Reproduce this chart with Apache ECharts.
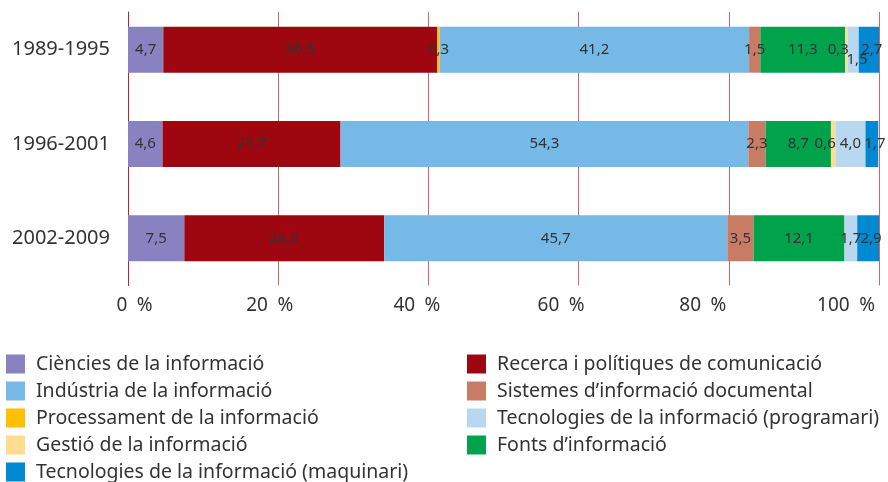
<!DOCTYPE html>
<html>
<head>
<meta charset="utf-8">
<script src="https://cdn.jsdelivr.net/npm/echarts@6/dist/echarts.min.js"></script>
<style>
html,body{margin:0;padding:0;background:#fff;}
#chart{width:888px;height:482px;}
</style>
</head>
<body>
<div id="chart"></div>
<script>
// ---- data ----
const categories = ['1989-1995', '1996-2001', '2002-2009'];
const tickLabels = ['0 %', '20 %', '40 %', '60 %', '80 %', '100 %'];

const seriesNames = [
  'Ciències de la informació',
  'Recerca i polítiques de comunicació',
  'Processament de la informació',
  'Indústria de la informació',
  'Sistemes d\u2019informació documental',
  'Fonts d\u2019informació',
  'Gestió de la informació',
  'Tecnologies de la informació (programari)',
  'Tecnologies de la informació (maquinari)'
];
const ciencies     = [4.7, 4.6, 7.5];
const recerca      = [36.5, 23.7, 26.6];
const processament = [0.3, 0, 0];
const industria    = [41.2, 54.3, 45.7];
const sistemes     = [1.5, 2.3, 3.5];
const fonts        = [11.3, 8.7, 12.1];
const gestio       = [0.3, 0.6, 0];
const programari   = [1.5, 4.0, 1.7];
const maquinari    = [2.7, 1.7, 2.9];
const seriesValues = [ciencies, recerca, processament, industria, sistemes, fonts, gestio, programari, maquinari];

// ---- styles ----
const colors = ['#8882c0', '#9e0610', '#ffc000', '#76b8e6', '#c97c64', '#00a24c', '#ffdc8e', '#b9d8f0', '#0088d2'];
const labelOffsets = [null, null, null, null, null, null, [-8, 0], null, [3, 0]];
const specialOffsets = { '7-0': [4, 10] }; // series 7, row 0
// horizontal shift of each x tick label (reference labels drift left of grid lines)
const tickPads = [[0, 0, 0, 13], [0, 17, 0, 0], [0, 23, 0, 0], [0, 35, 0, 0], [0, 52, 0, 0], [0, 66, 0, 0]];

const FONT = 'Noto Sans';
const series = seriesNames.map((name, si) => ({
  name: name,
  type: 'bar',
  stack: 'total',
  barWidth: 46,
  xAxisIndex: 0,
  yAxisIndex: 0,
  z: 3,
  itemStyle: { color: colors[si] },
  label: {
    show: true,
    position: 'inside',
    fontFamily: FONT,
    fontSize: 15,
    color: '#333',
    offset: labelOffsets[si] || [0, 0],
    formatter: p => p.value ? Number(p.value).toFixed(1).replace('.', ',') : ''
  },
  data: seriesValues[si].map((v, ci) => {
    const key = si + '-' + ci;
    if (specialOffsets[key]) return { value: v, label: { offset: specialOffsets[key] } };
    return v;
  })
}));

const leftLegend = [0, 3, 2, 6, 8].map(i => seriesNames[i]);
const rightLegend = [1, 4, 7, 5].map(i => seriesNames[i]);
const legendCommon = {
  orient: 'vertical',
  top: 354,
  height: 128,
  padding: 0,
  itemWidth: 19,
  itemHeight: 19,
  itemGap: 7,
  icon: 'rect',
  selectedMode: false,
  textStyle: { fontFamily: FONT, fontSize: 19.5, color: '#333', padding: [0, 0, 0, 6] }
};

const rich = {};
tickPads.forEach((p, i) => {
  rich['t' + i] = { fontFamily: FONT, fontSize: 19, color: '#333', padding: p };
});

const chart = echarts.init(document.getElementById('chart'), null, { renderer: 'canvas' });
chart.setOption({
  animation: false,
  color: colors,
  grid: [
    // bars
    { left: 128, right: 9, top: 2.5, height: 283, containLabel: false, outerBoundsMode: 'none', z: 2 },
    // grid lines / axis (they start a little lower than the bar band)
    { left: 128, right: 9, top: 12, height: 273.5, containLabel: false, outerBoundsMode: 'none', z: 0 }
  ],
  legend: [
    Object.assign({ left: 6, data: leftLegend }, legendCommon),
    Object.assign({ left: 467, data: rightLegend }, legendCommon)
  ],
  xAxis: [
    {
      gridIndex: 0, type: 'value', min: 0, max: 100, interval: 20,
      axisLine: { show: false }, axisTick: { show: false },
      splitLine: { show: false }, axisLabel: { show: false }
    },
    {
      gridIndex: 1, type: 'value', min: 0, max: 100, interval: 20,
      axisLine: { show: false }, axisTick: { show: false },
      splitLine: { show: true, lineStyle: { color: '#cc6670', width: 1 } },
      axisLabel: {
        fontFamily: FONT,
        fontSize: 19,
        color: '#333',
        margin: 11,
        hideOverlap: false,
        showMaxLabel: true,
        showMinLabel: true,
        formatter: (v) => {
          const i = Math.round(v / 20);
          return '{t' + i + '|' + tickLabels[i].replace(' ', '\u2002') + '}';
        },
        rich: rich
      }
    }
  ],
  yAxis: [
    {
      gridIndex: 0,
      type: 'category',
      inverse: true,
      data: categories,
      axisLine: { show: false },
      axisTick: { show: false },
      axisLabel: { fontFamily: FONT, fontSize: 20, color: '#333', margin: 18 }
    },
    {
      gridIndex: 1,
      type: 'category',
      inverse: true,
      data: categories,
      axisLine: { show: true, lineStyle: { color: '#b3262e', width: 1 } },
      axisTick: { show: false },
      axisLabel: { show: false },
      splitLine: { show: false }
    }
  ],
  series: series
});
</script>
</body>
</html>
